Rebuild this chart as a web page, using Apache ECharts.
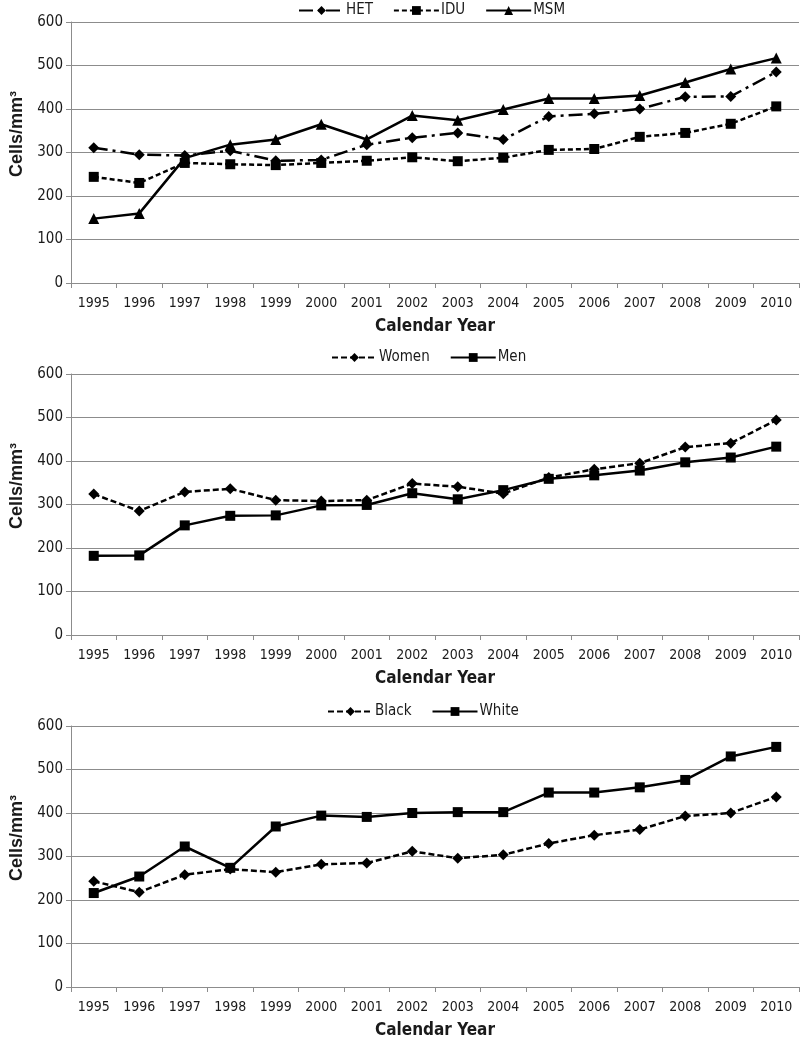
<!DOCTYPE html>
<html>
<head>
<meta charset="utf-8">
<script src="https://cdn.jsdelivr.net/npm/echarts@6/dist/echarts.min.js"></script>
<style>html,body{margin:0;padding:0;background:#fff}#c{width:800px;height:1044px}</style>
</head>
<body>
<div id="c"></div>
<script>
const years = ['1995','1996','1997','1998','1999','2000','2001','2002','2003','2004','2005','2006','2007','2008','2009','2010'];
const yTicks = [0, 100, 200, 300, 400, 500, 600];
const het   = [311, 295, 293, 304, 281, 283, 318, 334, 345, 330, 383, 389, 400, 428, 429, 485];
const idu   = [244, 230, 276, 273, 271, 276, 281, 289, 280, 288, 306, 308, 336, 345, 366, 406];
const msm   = [148, 160, 287, 318, 330, 365, 330, 385, 374, 399, 424, 424, 431, 461, 492, 517];
const women = [324, 285, 329, 336, 310, 308, 310, 348, 341, 325, 362, 381, 395, 432, 441, 494];
const men   = [182, 183, 252, 274, 275, 298, 299, 326, 312, 333, 359, 367, 378, 397, 408, 433];
const black = [243, 218, 258, 271, 264, 282, 285, 312, 296, 304, 330, 349, 362, 393, 400, 437];
const white = [216, 254, 323, 274, 369, 394, 391, 400, 402, 402, 447, 447, 459, 476, 530, 552];

const narrow = "'DejaVu Sans Condensed', 'Liberation Sans Narrow', sans-serif";
const txt = '#1a1a1a';
const gridTops = [22, 374, 726];
const grids = gridTops.map(t => ({ left: 71, right: 1, top: t, height: 261, containLabel: false }));

const xAxes = gridTops.map((t, i) => ({
  type: 'category', gridIndex: i, data: years, boundaryGap: true,
  name: 'Calendar Year', nameLocation: 'middle', nameGap: 35,
  nameTextStyle: { fontFamily: narrow, fontWeight: 'bold', fontSize: 17, color: txt },
  axisLine: { lineStyle: { color: '#8c8c8c', width: 1 } },
  axisTick: { show: true, length: 5, interval: 0, lineStyle: { color: '#8c8c8c' } },
  axisLabel: { interval: 0, fontFamily: narrow, fontSize: 14, color: txt, margin: 13 },
  splitLine: { show: false }
}));
const yAxes = gridTops.map((t, i) => ({
  type: 'value', gridIndex: i, min: yTicks[0], max: yTicks[yTicks.length - 1], interval: 100,
  name: 'Cells/mm³', nameLocation: 'middle', nameGap: 44, nameRotate: 90,
  nameTextStyle: { fontFamily: "'Liberation Sans', Arial, sans-serif", fontWeight: 'bold', fontSize: 18, color: txt, padding: [0, 0, 0, 37] },
  axisLine: { show: true, lineStyle: { color: '#8c8c8c', width: 1 } },
  axisTick: { show: true, length: 5, lineStyle: { color: '#8c8c8c' } },
  axisLabel: { fontFamily: narrow, fontSize: 15, color: txt, margin: 8 },
  splitLine: { show: true, lineStyle: { color: '#8c8c8c', width: 1 } }
}));

function mk(name, data, idx, symbol, size, dash) {
  return {
    name, type: 'line', data, xAxisIndex: idx, yAxisIndex: idx,
    symbol, symbolSize: size, showSymbol: true, animation: false,
    itemStyle: { color: '#000' },
    lineStyle: { color: '#000', width: 2.5, type: dash },
    emphasis: { disabled: true }
  };
}

const legendBase = {
  itemWidth: 45, itemHeight: 11, itemGap: 20,
  textStyle: { fontFamily: narrow, fontSize: 15, color: txt, padding: [0, 0, 0, -3] },
};

const option = {
  backgroundColor: '#fff',
  animation: false,
  grid: grids,
  xAxis: xAxes,
  yAxis: yAxes,
  legend: [
    Object.assign({}, legendBase, { left: 293, top: -2, data: ['HET', 'IDU', 'MSM'] }),
    Object.assign({}, legendBase, { left: 326, top: 345, data: ['Women', 'Men'] }),
    Object.assign({}, legendBase, { left: 322, top: 699, data: ['Black', 'White'] })
  ],
  series: [
    mk('HET', het, 0, 'diamond', 11, [14, 5, 3, 5]),
    mk('IDU', idu, 0, 'rect', 10, [5, 3]),
    mk('MSM', msm, 0, 'triangle', 11, 'solid'),
    mk('Women', women, 1, 'diamond', 11, [6, 3]),
    mk('Men', men, 1, 'rect', 10, 'solid'),
    mk('Black', black, 2, 'diamond', 11, [6, 3]),
    mk('White', white, 2, 'rect', 10, 'solid')
  ]
};
const chart = echarts.init(document.getElementById('c'), null, { renderer: 'canvas' });
chart.setOption(option);
</script>
</body>
</html>
